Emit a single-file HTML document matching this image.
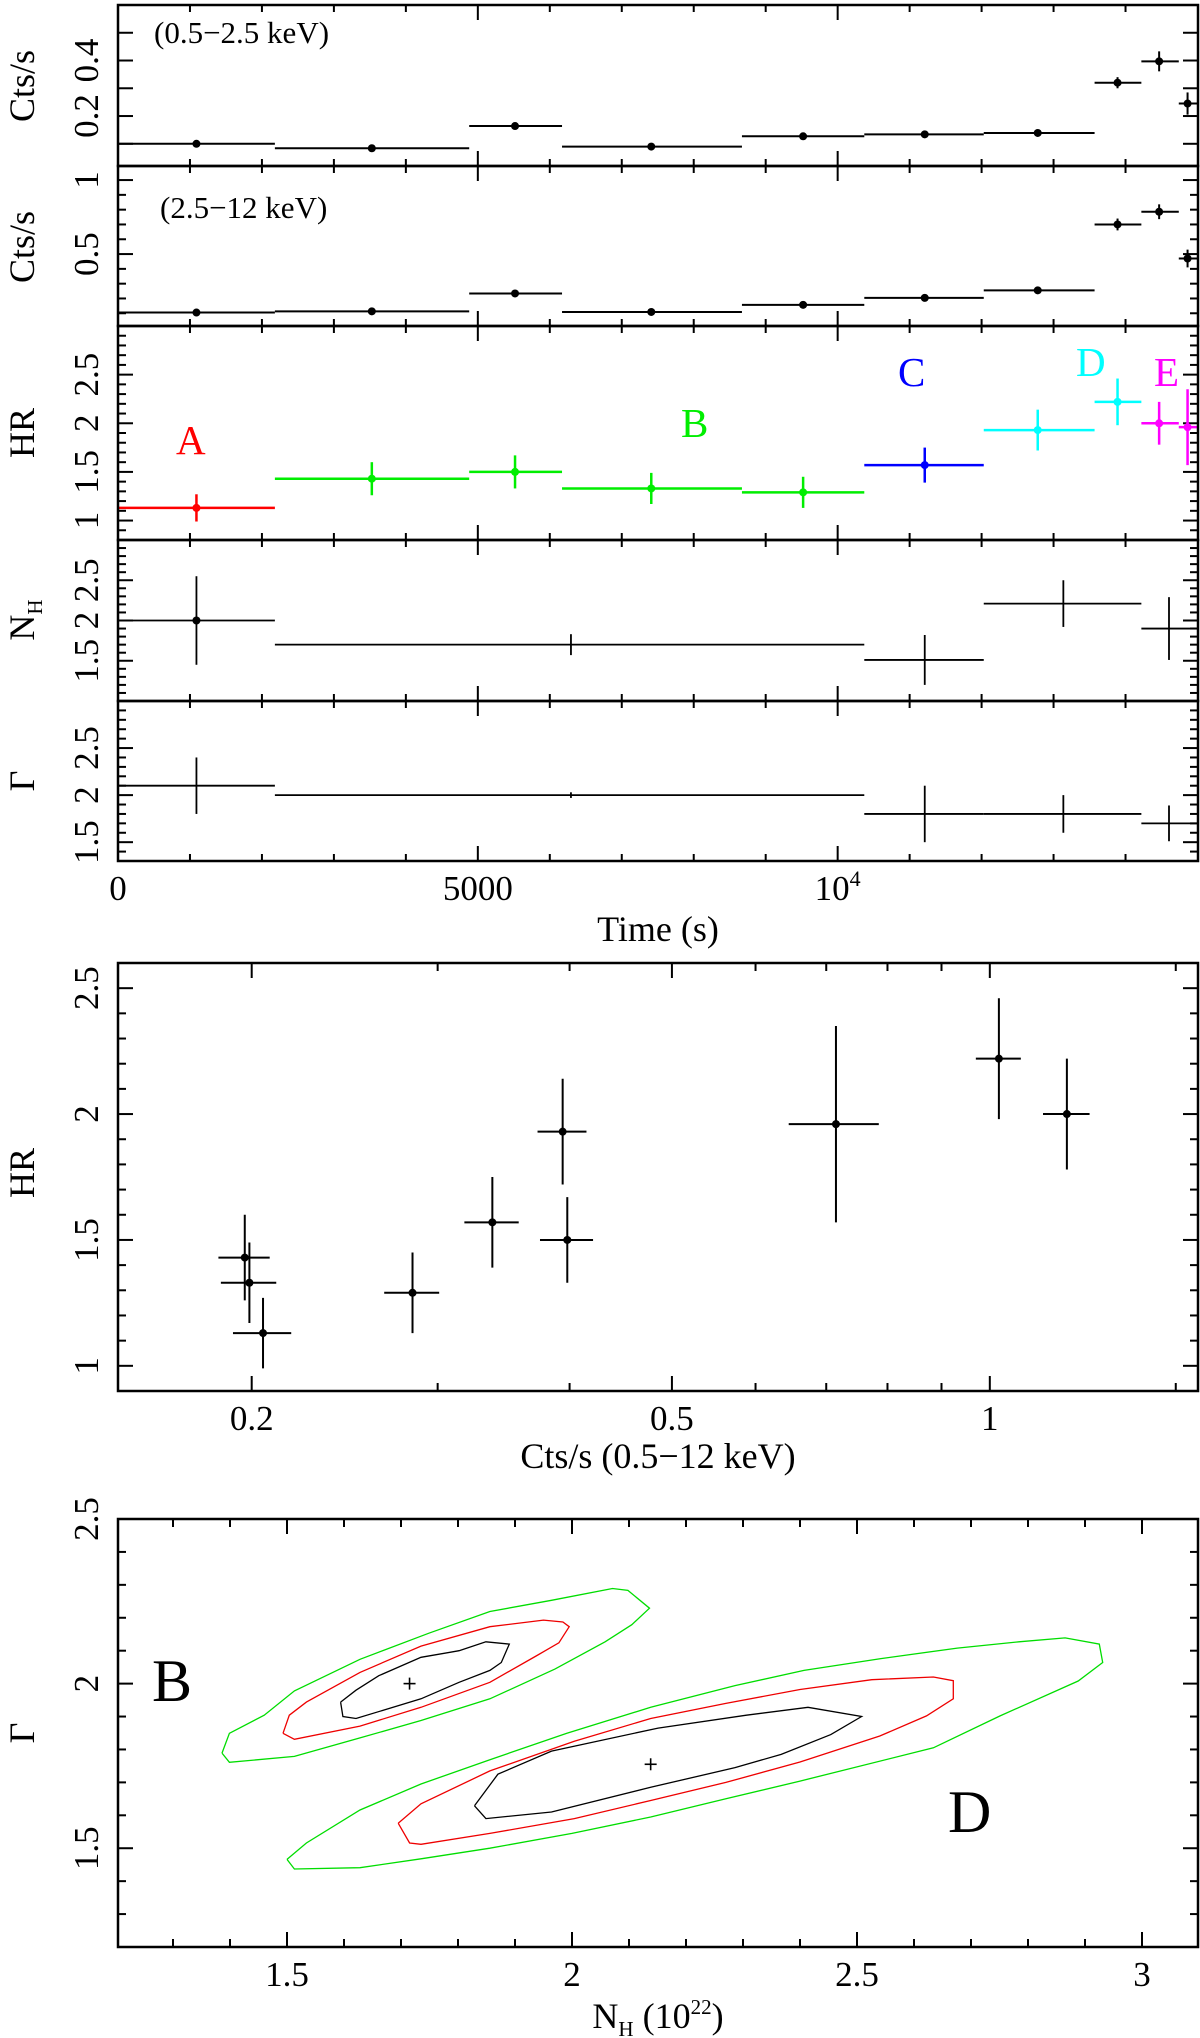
<!DOCTYPE html>
<html><head><meta charset="utf-8">
<style>
html,body{margin:0;padding:0;background:#fff;}
svg{display:block;font-family:"Liberation Serif","Times New Roman",serif;}
svg text{font-family:"Liberation Serif","Times New Roman",serif;}
</style></head>
<body>
<svg id="fig" width="1200" height="2038" viewBox="0 0 1200 2038" xmlns="http://www.w3.org/2000/svg" font-family="Liberation Serif, serif"></svg>
<script>
// ---------- Data: light curve panels ----------
const binStart = [0, 2180, 4880, 6170, 8670, 10370, 12030, 13570, 14220];
const binEnd   = [2180, 4880, 6170, 8670, 10370, 12030, 13570, 14220, 14740];
const binMid   = [1090, 3527, 5517, 7410, 9520, 11210, 12780, 13889, 14467];
// last bin (E2) is partially outside the plot
const lastBinStart = 14740, lastBinEnd = 15100, lastBinMid = 14862;
const softRate = [0.100, 0.084, 0.164, 0.090, 0.127, 0.134, 0.139, 0.320, 0.397, 0.245];
const softErr  = [0.005, 0.005, 0.007, 0.005, 0.006, 0.006, 0.006, 0.020, 0.036, 0.040];
const hardRate = [0.105, 0.113, 0.234, 0.109, 0.157, 0.204, 0.255, 0.700, 0.786, 0.470];
const hardErr  = [0.006, 0.007, 0.012, 0.006, 0.008, 0.010, 0.012, 0.040, 0.050, 0.060];
const hrVal    = [1.13, 1.43, 1.50, 1.33, 1.29, 1.57, 1.93, 2.22, 2.00, 1.96];
const hrErr    = [0.14, 0.17, 0.17, 0.16, 0.16, 0.18, 0.21, 0.24, 0.22, 0.39];
const hrGroup  = ['A','B','B','B','B','C','D','D','E','E'];
const groupColor = {A:'#ff0000', B:'#00ee00', C:'#0000ff', D:'#00ffff', E:'#ff00ff'};
const totRateErr = [0.013, 0.011, 0.023, 0.012, 0.017, 0.020, 0.021, 0.050, 0.060, 0.070];
// spectral fit bins
const specStart = [0, 2180, 10370, 12030, 14220];
const specEnd   = [2180, 10370, 12030, 14220, 15100];
const specMid   = [1090, 6294, 11210, 13136, 14604];
const nhVal = [2.00, 1.70, 1.51, 2.21, 1.90];
const nhErr = [0.55, 0.13, 0.31, 0.29, 0.39];
const gamVal = [2.10, 2.00, 1.80, 1.80, 1.70];
const gamErr = [0.30, 0.03, 0.30, 0.20, 0.19];
// contours: [NH, Gamma] pairs
const contBGreen = [[1.386,1.789],[1.399,1.761],[1.513,1.779],[1.628,1.835],[1.735,1.888],[1.856,1.954],[1.970,2.044],[2.058,2.127],[2.105,2.179],[2.136,2.229],[2.098,2.283],[2.071,2.289],[1.964,2.253],[1.856,2.219],[1.749,2.153],[1.628,2.074],[1.513,1.978],[1.460,1.904],[1.399,1.849],[1.386,1.789]];
const contBRed = [[1.493,1.849],[1.513,1.831],[1.628,1.871],[1.735,1.928],[1.856,2.004],[1.937,2.084],[1.977,2.124],[1.995,2.173],[1.984,2.187],[1.950,2.193],[1.856,2.173],[1.735,2.114],[1.628,2.034],[1.534,1.944],[1.504,1.904],[1.493,1.849]];
const contBBlack = [[1.594,1.944],[1.598,1.900],[1.621,1.894],[1.735,1.954],[1.802,2.004],[1.856,2.040],[1.876,2.064],[1.890,2.120],[1.849,2.127],[1.802,2.100],[1.735,2.080],[1.661,2.024],[1.621,1.980],[1.594,1.944]];
const contDGreen = [[1.500,1.466],[1.534,1.516],[1.628,1.616],[1.735,1.695],[1.856,1.769],[1.991,1.849],[2.138,1.928],[2.286,1.994],[2.407,2.040],[2.542,2.076],[2.676,2.108],[2.784,2.127],[2.865,2.139],[2.925,2.120],[2.931,2.064],[2.888,2.008],[2.751,1.902],[2.634,1.805],[2.400,1.704],[2.270,1.650],[2.138,1.595],[2.000,1.545],[1.856,1.500],[1.735,1.468],[1.628,1.441],[1.513,1.437],[1.500,1.466]];
const contDRed = [[1.695,1.576],[1.735,1.635],[1.856,1.735],[2.004,1.825],[2.138,1.894],[2.270,1.940],[2.400,1.982],[2.526,2.012],[2.634,2.020],[2.669,2.009],[2.669,1.954],[2.622,1.902],[2.540,1.841],[2.400,1.762],[2.270,1.700],[2.138,1.645],[2.004,1.590],[1.856,1.545],[1.735,1.512],[1.715,1.516],[1.695,1.576]];
const contDBlack = [[1.829,1.629],[1.849,1.590],[1.964,1.610],[2.138,1.685],[2.286,1.745],[2.367,1.785],[2.454,1.845],[2.508,1.900],[2.414,1.928],[2.306,1.904],[2.151,1.865],[1.964,1.795],[1.870,1.725],[1.829,1.629]];
const bestFitNH = [1.715, 2.138];
const bestFitGam = [2.000, 1.755];

const NS='http://www.w3.org/2000/svg';
const svg=document.getElementById('fig');
const TICKFS=35, TITLEFS=36;
function el(tag, attrs, parent){const e=document.createElementNS(NS,tag);for(const k in attrs)e.setAttribute(k,attrs[k]);(parent||svg).appendChild(e);return e;}
function line(x1,y1,x2,y2,color,w,parent){return el('line',{x1,y1,x2,y2,stroke:color||'#000','stroke-width':w||2},parent);}
function txt(x,y,s,size,opts,parent){const t=el('text',Object.assign({x,y,'font-size':size,'font-family':'Liberation Serif, serif'},opts||{}),parent);t.textContent=s;return t;}

const L=118,R=1198;
const T0=0,T1=15007;
function tx(t){return L+(t-T0)/(T1-T0)*(R-L);}
function lin(v0,v1,yb,yt){return v=>yb-(v-v0)/(v1-v0)*(yb-yt);}

function frame(g,x0,y0,x1,y1){el('rect',{x:x0,y:y0,width:x1-x0,height:y1-y0,fill:'none',stroke:'#000','stroke-width':2.5},g);}
function yTicks(g,fy,vmin,vmax,step,majStep,labels,labelX){
  const start=Math.ceil(vmin/step-1e-6);
  for(let i=start;i*step<=vmax+1e-9;i++){
    const v=i*step, y=fy(v);
    const maj=Math.abs(v/majStep-Math.round(v/majStep))<1e-6;
    const len=maj?15:8;
    line(L,y,L+len,y,'#000',2,g);line(R,y,R-len,y,'#000',2,g);
  }
  labels.forEach(v=>{const lx=labelX||98;const y=fy(v);const t=txt(lx,y,String(v),TICKFS,{'text-anchor':'middle',transform:`rotate(-90 ${lx} ${y})`},g);
    
    });
}
function timeXTicks(g,yb,yt){
  for(let t=1000;t<15000;t+=1000){
    const x=tx(t);const maj=t%5000===0;const len=maj?15:7;
    line(x,yb,x,yb-len,'#000',2,g);line(x,yt,x,yt+len,'#000',2,g);
  }
}
function yTitle(g,x,y,s,name){const t=txt(x,y,s,TITLEFS,{'text-anchor':'middle',transform:`rotate(-90 ${x} ${y})`},g);
  
  return t;}
function errbar(g,x,y,xl,xr,yl,yh,color,w,dot){
  line(xl,y,xr,y,color,w,g);line(x,yl,x,yh,color,w,g);
  if(dot){el('circle',{cx:x,cy:y,r:4,fill:color},g);}
}

const P=[[5,166],[166,326],[326,540],[540,701],[701,861]];
const mids=binMid.concat([lastBinMid]), starts=binStart.concat([lastBinStart]), ends=binEnd.concat([lastBinEnd]);
function clipX(x){return Math.min(Math.max(x,L),R);}
// ---------- Panel 1: soft rate ----------
{
  const g=el('g',{});
  const fy=lin(0.02,0.6,P[0][1],P[0][0]);
  yTicks(g,fy,0.02,0.6,0.1,0.1,[0.2,0.4]);
  timeXTicks(g,P[0][1],P[0][0]);
  yTitle(g,34,86,'Cts/s','y-axis-title-soft');
  const lab=txt(154,43,'(0.5−2.5 keV)',31,{},g);
  softRate.forEach((v,i)=>{const pt=el('g',{},g);
    errbar(pt,tx(mids[i]),fy(v),clipX(tx(starts[i])),clipX(tx(ends[i])),fy(v-softErr[i]),fy(v+softErr[i]),'#000',2,true);});
  frame(g,L,P[0][0],R,P[0][1]);
}
// ---------- Panel 2: hard rate ----------
{
  const g=el('g',{});
  const fy=lin(0.014,1.095,P[1][1],P[1][0]);
  yTicks(g,fy,0.014,1.095,0.1,0.5,[0.5,1]);
  timeXTicks(g,P[1][1],P[1][0]);
  yTitle(g,34,247,'Cts/s','y-axis-title-hard');
  const lab=txt(160,218,'(2.5−12 keV)',31,{},g);
  hardRate.forEach((v,i)=>{const pt=el('g',{},g);
    errbar(pt,tx(mids[i]),fy(v),clipX(tx(starts[i])),clipX(tx(ends[i])),fy(v-hardErr[i]),fy(v+hardErr[i]),'#000',2,true);});
  frame(g,L,P[1][0],R,P[1][1]);
}
// ---------- Panel 3: HR ----------
{
  const g=el('g',{});
  const fy=lin(0.8,3.0,P[2][1],P[2][0]);
  yTicks(g,fy,0.8,3.0,0.1,0.5,[1,1.5,2,2.5]);
  timeXTicks(g,P[2][1],P[2][0]);
  yTitle(g,34,433,'HR','y-axis-title-hr');
  hrVal.forEach((v,i)=>{const c=groupColor[hrGroup[i]];const pt=el('g',{},g);
    errbar(pt,tx(mids[i]),fy(v),clipX(tx(starts[i])),clipX(tx(ends[i])),fy(v-hrErr[i]),fy(v+hrErr[i]),c,2.5,true);});
  const gl=[['A',176,454,'#ff0000'],['B',681,437,'#00ee00'],['C',898,386,'#0000ff'],['D',1076,376,'#00ffff'],['E',1154,386,'#ff00ff']];
  gl.forEach(a=>{const t=txt(a[1],a[2],a[0],41,{fill:a[3]},g);});
  frame(g,L,P[2][0],R,P[2][1]);
}
// ---------- Panel 4: NH ----------
{
  const g=el('g',{});
  const fy=lin(1.0,3.0,P[3][1],P[3][0]);
  yTicks(g,fy,1.0,3.0,0.1,0.5,[1.5,2,2.5]);
  timeXTicks(g,P[3][1],P[3][0]);
  const t=el('text',{x:34,y:620,'font-size':TITLEFS,'font-family':'Liberation Serif, serif','text-anchor':'middle',transform:'rotate(-90 34 620)'},g);
  
  t.innerHTML='N<tspan font-size="21" dy="8">H</tspan>';
  nhVal.forEach((v,i)=>{const pt=el('g',{},g);
    errbar(pt,tx(specMid[i]),fy(v),clipX(tx(specStart[i])),clipX(tx(specEnd[i])),fy(v-nhErr[i]),fy(v+nhErr[i]),'#000',1.8,i===0);});
  frame(g,L,P[3][0],R,P[3][1]);
}
// ---------- Panel 5: Gamma ----------
{
  const g=el('g',{});
  const fy=lin(1.3,3.0,P[4][1],P[4][0]);
  yTicks(g,fy,1.3,3.0,0.1,0.5,[1.5,2,2.5]);
  timeXTicks(g,P[4][1],P[4][0]);
  yTitle(g,34,781,'Γ','y-axis-title-gamma');
  gamVal.forEach((v,i)=>{const pt=el('g',{},g);
    errbar(pt,tx(specMid[i]),fy(v),clipX(tx(specStart[i])),clipX(tx(specEnd[i])),fy(v-gamErr[i]),fy(v+gamErr[i]),'#000',1.8,false);});
  frame(g,L,P[4][0],R,P[4][1]);
  const xl=[[0,'0'],[5000,'5000']];
  xl.forEach(a=>{const t=txt(tx(a[0]),900,a[1],TICKFS,{'text-anchor':'middle'},g);});
  const t4=el('text',{x:tx(10000),y:900,'font-size':TICKFS,'font-family':'Liberation Serif, serif','text-anchor':'middle'},g);
  
  t4.innerHTML='10<tspan font-size="22" dy="-14">4</tspan>';
  const tt=txt(658,941,'Time (s)',TITLEFS,{'text-anchor':'middle'},g);
}
// ---------- Scatter: HR vs total rate ----------
{
  const g=el('g',{});
  const yt=963,yb=1391;
  const fy=lin(0.9,2.6,yb,yt);
  const lx0=Math.log10(0.2),px0=251.7,dec=1056;
  const fx=v=>px0+(Math.log10(v)-lx0)*dec;
  yTicks(g,fy,0.9,2.6,0.1,0.5,[1,1.5,2,2.5]);
  const xt=[0.2,0.3,0.4,0.5,0.6,0.7,0.8,0.9,1,1.5];
  xt.forEach(v=>{const x=fx(v);const maj=(v===0.2||v===0.5||v===1);const len=maj?15:8;
    line(x,yb,x,yb-len,'#000',2,g);line(x,yt,x,yt+len,'#000',2,g);});
  [[0.2,'0.2'],[0.5,'0.5'],[1,'1']].forEach(a=>{const t=txt(fx(a[0]),1430,a[1],TICKFS,{'text-anchor':'middle'},g);});
  yTitle(g,34,1173,'HR','y-axis-title-hr-scatter');
  const xtl=txt(658,1468,'Cts/s (0.5−12 keV)',TITLEFS,{'text-anchor':'middle'},g);
  hrVal.forEach((v,i)=>{const r=softRate[i]+hardRate[i];const pt=el('g',{},g);
    errbar(pt,fx(r),fy(v),fx(r-totRateErr[i]),fx(r+totRateErr[i]),fy(v-hrErr[i]),fy(v+hrErr[i]),'#000',2,true);});
  frame(g,L,yt,R,yb);
}
// ---------- Contour panel ----------
{
  const g=el('g',{});
  const yt=1519,yb=1947;
  const fy=lin(1.2,2.5,yb,yt);
  const fx=v=>287+(v-1.5)*570;
  yTicks(g,fy,1.2,2.5,0.1,0.5,[1.5,2,2.5]);
  for(let i=13;i<=31;i++){const v=i/10;const x=fx(v);if(x<=L||x>=R)continue;const maj=i%5===0;const len=maj?15:8;
    line(x,yb,x,yb-len,'#000',2,g);line(x,yt,x,yt+len,'#000',2,g);}
  [[1.5,'1.5'],[2,'2'],[2.5,'2.5'],[3,'3']].forEach(a=>{const t=txt(fx(a[0]),1986,a[1],TICKFS,{'text-anchor':'middle'},g);});
  yTitle(g,34,1733,'Γ','y-axis-title-gamma-contour');
  const xt=el('text',{x:658,y:2028,'font-size':TITLEFS,'font-family':'Liberation Serif, serif','text-anchor':'middle'},g);
  
  xt.innerHTML='N<tspan font-size="21" dy="8">H</tspan><tspan dy="-8"> (10</tspan><tspan font-size="21" dy="-14">22</tspan><tspan dy="14">)</tspan>';
  const conts=[[contBGreen,'#00dd00','contour-b-99'],[contBRed,'#ee0000','contour-b-90'],[contBBlack,'#000','contour-b-68'],[contDGreen,'#00dd00','contour-d-99'],[contDRed,'#ee0000','contour-d-90'],[contDBlack,'#000','contour-d-68']];
  conts.forEach(c=>{const pts=c[0].map(p=>fx(p[0]).toFixed(1)+','+fy(p[1]).toFixed(1)).join(' ');
    const pl=el('polyline',{points:pts,fill:'none',stroke:c[1],'stroke-width':1.3},g);
    
    });
  bestFitNH.forEach((v,i)=>{const x=fx(v),y=fy(bestFitGam[i]);const pt=el('g',{},g);
    line(x-6,y,x+6,y,'#000',1.6,pt);line(x,y-6,x,y+6,'#000',1.6,pt);});
  const b=txt(152,1701,'B',60,{},g);
  const d=txt(948,1832,'D',60,{},g);
  frame(g,L,yt,R,yb);
}
</script>
</body></html>
